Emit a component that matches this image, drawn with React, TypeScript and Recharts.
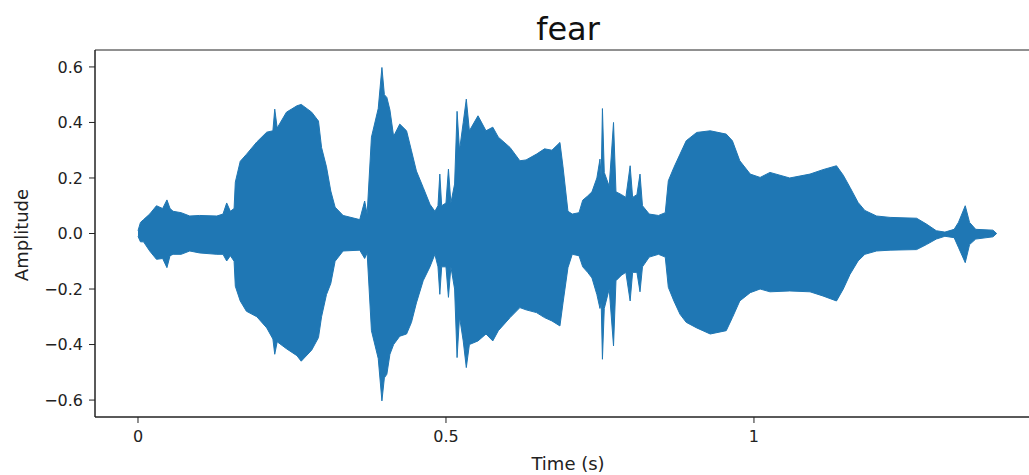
import { ComposedChart, Area, XAxis, YAxis, ReferenceArea } from 'recharts';

// waveform envelope (seconds / amplitude)
const times = [
  0.000, 0.004, 0.009, 0.019, 0.030, 0.040, 0.047, 0.052, 0.057, 0.070,
  0.084, 0.100, 0.128, 0.138, 0.144, 0.150, 0.156, 0.158, 0.166, 0.176,
  0.193, 0.209, 0.219, 0.222, 0.226, 0.241, 0.258, 0.265, 0.282, 0.293,
  0.298, 0.306, 0.313, 0.320, 0.333, 0.360, 0.368, 0.372, 0.379, 0.390,
  0.396, 0.400, 0.404, 0.409, 0.415, 0.425, 0.436, 0.444, 0.452, 0.463,
  0.474, 0.482, 0.487, 0.490, 0.493, 0.500, 0.504, 0.508, 0.514, 0.518,
  0.522, 0.528, 0.533, 0.538, 0.552, 0.565, 0.576, 0.585, 0.604, 0.620,
  0.630, 0.647, 0.660, 0.672, 0.685, 0.690, 0.698, 0.705, 0.716, 0.722,
  0.730, 0.737, 0.745, 0.750, 0.752, 0.754, 0.757, 0.765, 0.772, 0.776,
  0.785, 0.792, 0.799, 0.803, 0.810, 0.815, 0.819, 0.830, 0.845, 0.856,
  0.861, 0.870, 0.880, 0.890, 0.907, 0.929, 0.955, 0.965, 0.977, 0.994,
  1.010, 1.026, 1.058, 1.091, 1.112, 1.134, 1.145, 1.156, 1.169, 1.180,
  1.199, 1.221, 1.264, 1.280, 1.296, 1.310, 1.325, 1.332, 1.343, 1.350,
  1.360, 1.388, 1.394,
];

const upper = [
  0.01, 0.04, 0.05, 0.07, 0.10, 0.09, 0.121, 0.09, 0.08, 0.075,
  0.063, 0.065, 0.063, 0.07, 0.11, 0.08, 0.09, 0.185, 0.26, 0.285,
  0.33, 0.365, 0.37, 0.448, 0.38, 0.437, 0.46, 0.465, 0.437, 0.405,
  0.31, 0.24, 0.153, 0.095, 0.065, 0.05, 0.117, 0.07, 0.347, 0.45,
  0.598, 0.50, 0.49, 0.445, 0.35, 0.394, 0.37, 0.298, 0.225, 0.166,
  0.105, 0.08, 0.10, 0.214, 0.10, 0.11, 0.232, 0.11, 0.178, 0.44,
  0.30, 0.40, 0.484, 0.37, 0.424, 0.37, 0.383, 0.347, 0.31, 0.262,
  0.265, 0.286, 0.305, 0.30, 0.328, 0.24, 0.08, 0.07, 0.075, 0.12,
  0.135, 0.15, 0.20, 0.268, 0.20, 0.45, 0.22, 0.17, 0.40, 0.15,
  0.14, 0.13, 0.244, 0.13, 0.14, 0.214, 0.10, 0.07, 0.065, 0.075,
  0.19, 0.238, 0.286, 0.334, 0.364, 0.37, 0.358, 0.334, 0.262, 0.214,
  0.202, 0.22, 0.20, 0.214, 0.23, 0.244, 0.21, 0.166, 0.112, 0.083,
  0.063, 0.058, 0.055, 0.034, 0.01, 0.005, 0.015, 0.04, 0.10, 0.04,
  0.015, 0.012, 0.0,
];

const lower = [
  -0.01, -0.03, -0.03, -0.063, -0.093, -0.09, -0.123, -0.08, -0.075, -0.075,
  -0.063, -0.07, -0.075, -0.075, -0.099, -0.08, -0.10, -0.19, -0.243, -0.28,
  -0.30, -0.34, -0.38, -0.435, -0.39, -0.415, -0.44, -0.46, -0.42, -0.375,
  -0.30, -0.22, -0.18, -0.10, -0.063, -0.06, -0.09, -0.07, -0.35, -0.45,
  -0.603, -0.52, -0.507, -0.435, -0.40, -0.37, -0.362, -0.32, -0.25, -0.17,
  -0.12, -0.075, -0.12, -0.219, -0.12, -0.12, -0.23, -0.12, -0.20, -0.447,
  -0.30, -0.387, -0.483, -0.40, -0.387, -0.362, -0.387, -0.35, -0.303, -0.267,
  -0.275, -0.285, -0.303, -0.315, -0.333, -0.25, -0.123, -0.075, -0.08, -0.12,
  -0.14, -0.16, -0.22, -0.27, -0.25, -0.453, -0.27, -0.20, -0.405, -0.17,
  -0.15, -0.14, -0.243, -0.14, -0.14, -0.21, -0.12, -0.085, -0.075, -0.085,
  -0.194, -0.243, -0.291, -0.32, -0.34, -0.362, -0.35, -0.303, -0.243, -0.213,
  -0.20, -0.21, -0.207, -0.21, -0.225, -0.243, -0.20, -0.147, -0.099, -0.075,
  -0.063, -0.06, -0.058, -0.04, -0.02, -0.01, -0.015, -0.05, -0.105, -0.04,
  -0.02, -0.012, 0.0,
];

const xTicks = [0, 0.5, 1];
const yTicks = [-0.6, -0.4, -0.2, 0, 0.2, 0.4, 0.6];

const data = times.map((t, i) => ({ t, range: [lower[i], upper[i]] }));

const BLUE = '#1f77b4';
const INK = '#222';
const FONT = '"DejaVu Sans", sans-serif';
const xDomain = [-0.0698, 1.466];
const yDomain = [-0.661, 0.661];

const fmtY = (v: number) => (v < 0 ? '\u2212' : '') + Math.abs(v).toFixed(1);

export default function App() {
  return (
    <div style={{ position: 'absolute', left: 0, top: 0, width: 1029, height: 475, overflow: 'hidden', background: '#fff', fontFamily: FONT }}>
      <div style={{ position: 'absolute', left: 0, top: 13, width: 1136, textAlign: 'center', fontSize: 32, color: '#111', lineHeight: 1 }}>
        fear
      </div>
      <div style={{ position: 'absolute', left: 568, top: 455, transform: 'translateX(-50%)', fontSize: 18, color: INK, whiteSpace: 'nowrap', lineHeight: 1 }}>
        Time (s)
      </div>
      <div style={{ position: 'absolute', left: 22, top: 235, transform: 'translate(-50%, -50%) rotate(-90deg)', fontSize: 18, color: INK, whiteSpace: 'nowrap', lineHeight: 1 }}>
        Amplitude
      </div>
      <ComposedChart
        width={1060}
        height={475}
        data={data}
        margin={{ top: 50, right: 19, bottom: 0, left: 0 }}
        style={{ position: 'absolute', left: 0, top: 0 }}
      >
        <XAxis
          dataKey="t"
          type="number"
          domain={xDomain}
          ticks={xTicks}
          allowDataOverflow
          height={58}
          tickSize={6}
          tickMargin={8}
          stroke={INK}
          tick={{ fontSize: 16, fill: INK, fontFamily: FONT }}
        />
        <YAxis
          type="number"
          domain={yDomain}
          ticks={yTicks}
          allowDataOverflow
          width={95}
          tickSize={6}
          tickMargin={6}
          stroke={INK}
          tickFormatter={fmtY}
          tick={{ fontSize: 16, fill: INK, fontFamily: FONT }}
        />
        <Area
          type="linear"
          dataKey="range"
          stroke={BLUE}
          strokeWidth={1}
          fill={BLUE}
          fillOpacity={1}
          dot={false}
          activeDot={false}
          isAnimationActive={false}
        />
        {/* axes frame, matplotlib style */}
        <ReferenceArea
          x1={xDomain[0]}
          x2={xDomain[1]}
          y1={yDomain[0]}
          y2={yDomain[1]}
          fill="none"
          fillOpacity={0}
          stroke={INK}
          strokeWidth={1}
          ifOverflow="visible"
        />
      </ComposedChart>
    </div>
  );
}
